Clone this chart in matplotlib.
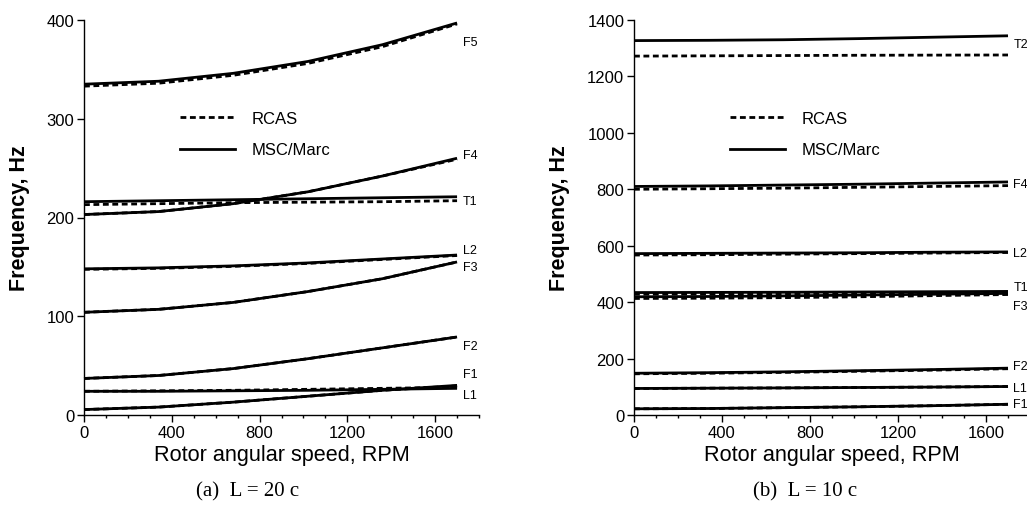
import matplotlib
matplotlib.use("Agg")
import matplotlib.pyplot as plt
from matplotlib.lines import Line2D

plt.rcParams['font.family'] = ['Liberation Sans', 'DejaVu Sans']

# ---------------- data ----------------
rpm = [0, 340, 680, 1020, 1360, 1700]

# (a) L = 20 c
msc_20c = {
    'F5': [335, 338, 346, 358, 375, 397],
    'F4': [203, 206, 214, 226, 242, 260],
    'T1': [216, 217, 218, 219, 220, 221],
    'L2': [148, 149, 151, 154, 158, 162],
    'F3': [104, 107, 114, 125, 138, 155],
    'F2': [37, 40, 47, 57, 68, 79],
    'L1': [24, 24, 24.5, 25, 26, 27],
    'F1': [5.5, 8, 13, 19, 25, 30],
}
rcas_20c = {
    'F5': [333, 336, 344, 356, 373, 396],
    'F4': [203, 206, 214, 226, 242, 259],
    'T1': [213, 214, 215, 215.5, 216, 217],
    'L2': [147.5, 148.5, 150.5, 153.5, 157.5, 161.5],
    'F3': [104, 107, 114, 125, 138, 155],
    'F2': [37, 40, 47, 57, 68, 79],
    'L1': [24, 24.5, 25, 26, 27, 28],
    'F1': [5.5, 8, 13, 19, 25, 29.5],
}

# (b) L = 10 c
msc_10c = {
    'T2': [1327, 1328, 1330, 1334, 1339, 1344],
    'F4': [810, 812, 815, 818, 822, 826],
    'L2': [572, 573, 574, 575, 577, 578],
    'T1': [434, 434.5, 435, 436, 437, 438],
    'F3': [419, 420, 422, 425, 428, 431],
    'F2': [148, 150, 153, 157, 161, 166],
    'L1': [94, 95, 96, 97.5, 99, 101],
    'F1': [22, 23, 26, 29, 33, 38],
}
rcas_10c = {
    'T2': [1272, 1273, 1274, 1275, 1275.5, 1276],
    'F4': [800, 802, 804, 807, 810, 813],
    'L2': [567, 568, 570, 572, 574, 576],
    'T1': [428, 429, 430, 431, 432, 433],
    'F3': [413, 414, 416, 419, 423, 427],
    'F2': [146, 148, 151, 155, 159, 164],
    'L1': [94, 95, 96, 97.5, 99, 101],
    'F1': [22, 23, 26, 29, 33, 38],
}

# mode label positions (value axis)
labels_20c = {'F5': 378, 'F4': 263, 'T1': 217, 'L2': 167, 'F3': 150,
              'F2': 70, 'F1': 42, 'L1': 20}
labels_10c = {'T2': 1315, 'F4': 818, 'L2': 573, 'T1': 454, 'F3': 385,
              'F2': 172, 'L1': 94, 'F1': 38}

yticks_20c = [0, 100, 200, 300, 400]
yticks_10c = [0, 200, 400, 600, 800, 1000, 1200, 1400]
xticks = [0, 400, 800, 1200, 1600]

# ---------------- figure ----------------
W, H = 1027, 506
fig = plt.figure(figsize=(W / 100, H / 100), dpi=100)

DASH = (2.1, 1.3)
LW = 2.0


def make_axes(rect, msc, rcas, labels, ylim, yticks, legend_anchor, caption, cap_x):
    ax = fig.add_axes(rect)
    for k in msc:
        ax.plot(rpm, msc[k], color='black', lw=LW, solid_capstyle='butt',
                clip_on=False)
        ax.plot(rpm, rcas[k], color='black', lw=LW, dashes=DASH,
                clip_on=False)
    for k, v in labels.items():
        ax.text(1725, v, k, fontsize=9, va='center', ha='left', clip_on=False)
    ax.set_xlim(0, 1800)
    ax.set_ylim(*ylim)
    ax.set_xticks(xticks)
    ax.set_xticks(range(0, 1801, 100), minor=True)
    ax.set_yticks(yticks)
    ax.spines['top'].set_visible(False)
    ax.spines['right'].set_visible(False)
    for s in ('left', 'bottom'):
        ax.spines[s].set_linewidth(1.0)
    ax.tick_params(axis='both', which='major', direction='out', length=5,
                   width=1.0, labelsize=12, pad=2)
    ax.tick_params(axis='x', which='minor', direction='out', length=2.5,
                   width=1.0)
    ax.tick_params(axis='y', which='minor', left=False)
    ax.set_xlabel('Rotor angular speed, RPM', fontsize=15.6, labelpad=3)
    ax.set_ylabel('Frequency, Hz', fontsize=15.5, fontweight='bold',
                  labelpad=12)
    handles = [Line2D([], [], color='black', lw=LW, dashes=DASH),
               Line2D([], [], color='black', lw=LW)]
    ax.legend(handles, ['RCAS', 'MSC/Marc'], loc='upper left',
              bbox_to_anchor=legend_anchor, frameon=False, fontsize=12,
              handlelength=3.3, handletextpad=1.0, labelspacing=1.0,
              borderaxespad=0)
    fig.text(cap_x, 1 - 492 / H, caption, fontsize=15, ha='center',
             va='center', family=['Liberation Serif', 'DejaVu Serif'])
    return ax


make_axes([84 / W, 1 - 416 / H, 395 / W, 395 / H], msc_20c, rcas_20c,
          labels_20c, (0, 400), yticks_20c, (0.225, 0.787),
          '(a)  L = 20 c', 248 / W)
make_axes([634 / W, 1 - 416 / H, 396 / W, 395 / H], msc_10c, rcas_10c,
          labels_10c, (0, 1400), yticks_10c, (0.225, 0.787),
          '(b)  L = 10 c', 805 / W)

fig.savefig('out.png', dpi=100)
